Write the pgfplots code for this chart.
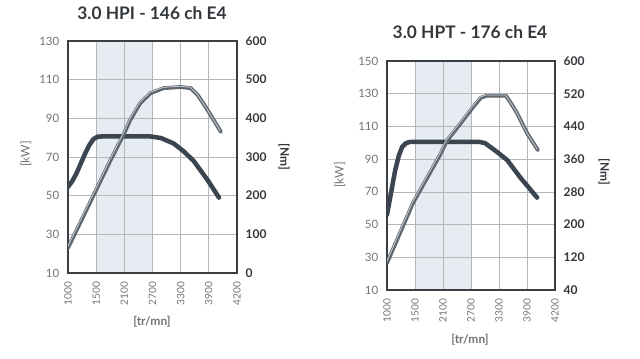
\documentclass[border=0pt]{standalone}
\usepackage{pgfplots}
\pgfplotsset{compat=1.18}
\usepackage{fontspec}
\setmainfont{Lato}
\definecolor{pw}{HTML}{3A4550}
\definecolor{tq}{HTML}{5F676F}
\definecolor{tqh}{HTML}{C9CED3}
\definecolor{band}{HTML}{E6ECF1}
\definecolor{gridc}{HTML}{B4B8BC}
\definecolor{frame}{HTML}{3A3F44}
\definecolor{lab}{HTML}{707478}
\definecolor{dlab}{HTML}{33373B}

\pgfplotstableread{
p kw
0 54.5
0.15 57.5
0.3 61.5
0.45 66.5
0.6 71.5
0.75 76
0.9 79.2
1.05 80.5
1.3 80.7
2.9 80.7
3.3 79.8
3.75 77
4.1 73
4.46 68
4.96 58
5.36 49
}\powA
\pgfplotstableread{
p nm
0 65
0.5 140
1.0 215
1.5 290
2.0 362
2.21 396
2.57 440
2.93 465
3.39 478
4.0 481
4.36 478
4.61 460
4.96 421
5.43 365
}\torA
\pgfplotstableread{
p kw
0 56
0.15 70
0.29 83
0.42 92
0.54 97.4
0.68 99.8
0.82 100.5
3.3 100.5
3.5 99.8
3.93 94.4
4.29 89.5
4.75 79
5.36 66.5
}\powB
\pgfplotstableread{
p nm
0 106
0.93 253
1.89 370
2.14 405
2.6 445
3.07 487
3.35 510
3.55 515
4.25 515
4.4 500
4.64 473
5.0 424
5.39 382
}\torB

\pgfplotsset{
  base/.style={scale only axis, xmin=0, xmax=6,
    tick style={draw=none},
    /pgf/number format/assume math mode=true,
    /pgf/number format/1000 sep={}},
}
\begin{document}
\begin{tikzpicture}[x=0.75pt,y=0.75pt]
\path[use as bounding box] (0,0) rectangle (640,359);
% ---------------- Left chart ----------------
\begin{axis}[base, at={(51pt,64.5pt)}, anchor=south west, width=126.75pt, height=174pt,
  ymin=10, ymax=130, hide axis]
\addplot[fill=band, draw=none] coordinates {(1,10) (3,10) (3,130) (1,130)} \closedcycle;
\end{axis}
\begin{axis}[base, at={(51pt,64.5pt)}, anchor=south west, width=126.75pt, height=174pt,
  ymin=10, ymax=130, ytick={10,30,...,130},
  xtick={0,...,6}, xticklabels={1000,1500,2100,2700,3300,3900,4200},
  x tick label style={rotate=90, anchor=east, font=\fontsize{7.6}{8}\selectfont, text=lab},
  y tick label style={font=\fontsize{8.6}{9}\selectfont, text=lab},
  xticklabel shift=3pt, yticklabel shift=3pt,
  grid=major, major grid style={gridc, line width=0.5pt},
  axis line style={frame, line width=1.1pt}]
\addplot[pw, line width=3.4pt, line join=round, line cap=round] table[x=p,y=kw]{\powA};
\end{axis}
\begin{axis}[base, at={(51pt,64.5pt)}, anchor=south west, width=126.75pt, height=174pt,
  ymin=0, ymax=600, ytick={0,100,...,600}, axis y line*=right, axis x line=none,
  y tick label style={font=\bfseries\fontsize{9}{10}\selectfont, text=dlab},
  yticklabel shift=3pt, axis line style={frame, line width=1.1pt}]
\addplot[tq, line width=2.9pt, line join=round, line cap=round] table[x=p,y=nm]{\torA};
\addplot[tqh, line width=0.6pt, line join=round, yshift=0.6pt, xshift=-0.4pt] table[x=p,y=nm]{\torA};
\end{axis}
\node[font=\bfseries\fontsize{13}{15}\selectfont, text=dlab] at (152,346) {3.0 HPI - 146 ch E4};
\node[rotate=90, font=\fontsize{9}{10}\selectfont, text=lab] at (26,205) {[kW]};
\node[rotate=-90, font=\bfseries\fontsize{9}{10}\selectfont, text=dlab] at (284,202) {[Nm]};
\node[font=\bfseries\fontsize{9}{10}\selectfont, text=lab] at (152,37) {[tr/mn]};
% ---------------- Right chart ----------------
\begin{axis}[base, at={(290.25pt,51.75pt)}, anchor=south west, width=126pt, height=171.75pt,
  ymin=10, ymax=150, hide axis]
\addplot[fill=band, draw=none] coordinates {(1,10) (3,10) (3,150) (1,150)} \closedcycle;
\end{axis}
\begin{axis}[base, at={(290.25pt,51.75pt)}, anchor=south west, width=126pt, height=171.75pt,
  ymin=10, ymax=150, ytick={10,30,...,150},
  xtick={0,...,6}, xticklabels={1000,1500,2100,2700,3300,3900,4200},
  x tick label style={rotate=90, anchor=east, font=\fontsize{7.6}{8}\selectfont, text=lab},
  y tick label style={font=\fontsize{8.6}{9}\selectfont, text=lab},
  xticklabel shift=3pt, yticklabel shift=3pt,
  grid=major, major grid style={gridc, line width=0.5pt},
  axis line style={frame, line width=1.1pt}]
\addplot[pw, line width=3.4pt, line join=round, line cap=round] table[x=p,y=kw]{\powB};
\end{axis}
\begin{axis}[base, at={(290.25pt,51.75pt)}, anchor=south west, width=126pt, height=171.75pt,
  ymin=40, ymax=600, ytick={40,120,...,600}, axis y line*=right, axis x line=none,
  y tick label style={font=\bfseries\fontsize{9}{10}\selectfont, text=dlab},
  yticklabel shift=3pt, axis line style={frame, line width=1.1pt}]
\addplot[tq, line width=2.9pt, line join=round, line cap=round] table[x=p,y=nm]{\torB};
\addplot[tqh, line width=0.6pt, line join=round, yshift=0.6pt, xshift=-0.4pt] table[x=p,y=nm]{\torB};
\end{axis}
\node[font=\bfseries\fontsize{13}{15}\selectfont, text=dlab] at (470,327) {3.0 HPT - 176 ch E4};
\node[rotate=90, font=\fontsize{9}{10}\selectfont, text=lab] at (340,184) {[kW]};
\node[rotate=-90, font=\bfseries\fontsize{9}{10}\selectfont, text=dlab] at (604,187) {[Nm]};
\node[font=\bfseries\fontsize{9}{10}\selectfont, text=lab] at (470,19) {[tr/mn]};
\end{tikzpicture}
\end{document}
